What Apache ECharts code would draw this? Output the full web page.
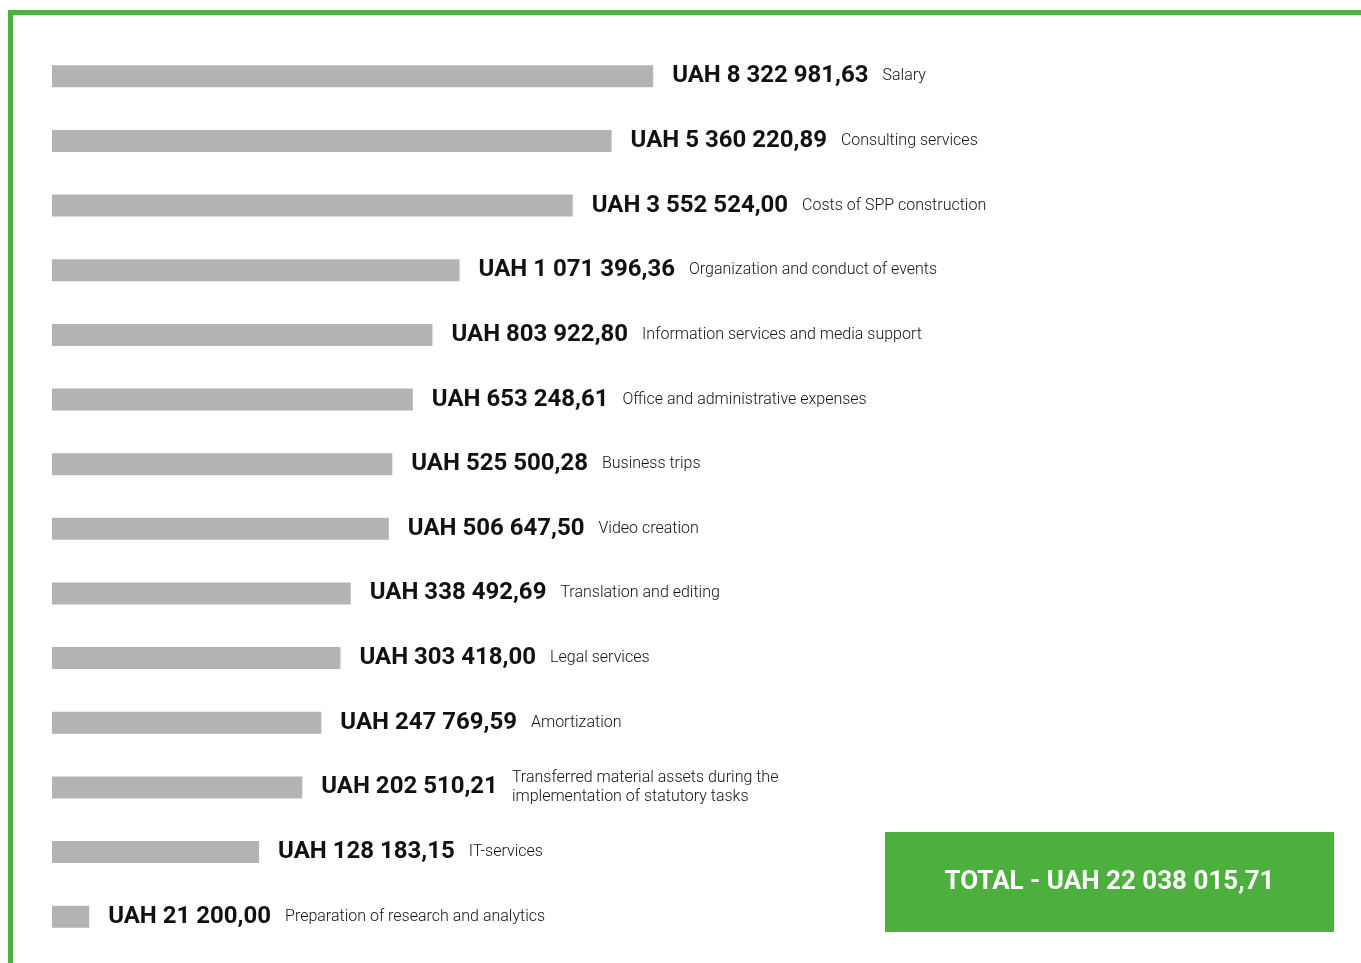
<!DOCTYPE html>
<html>
<head>
<meta charset="utf-8">
<title>Expenses</title>
<script src="https://cdn.jsdelivr.net/npm/echarts@6/dist/echarts.min.js"></script>
<style>
  html, body { margin: 0; padding: 0; background: #fff; }
  #chart { width: 1361px; height: 963px; }
</style>
</head>
<body>
<div id="chart"></div>
<script>
// Expense categories, top to bottom
const categories = [
  'Salary',
  'Consulting services',
  'Costs of SPP construction',
  'Organization and conduct of events',
  'Information services and media support',
  'Office and administrative expenses',
  'Business trips',
  'Video creation',
  'Translation and editing',
  'Legal services',
  'Amortization',
  'Transferred material assets during the\nimplementation of statutory tasks',
  'IT-services',
  'Preparation of research and analytics'
];

// Amounts in UAH
const amounts = [
  8322981.63,
  5360220.89,
  3552524.00,
  1071396.36,
  803922.80,
  653248.61,
  525500.28,
  506647.50,
  338492.69,
  303418.00,
  247769.59,
  202510.21,
  128183.15,
  21200.00
];

// Log value axis range
const axisMin = 14300;
const axisMax = 1.5e10;

const GREEN = '#4caf3e';
const BAR = '#b3b3b3';

function formatUAH(v) {
  const parts = v.toFixed(2).split('.');
  const whole = parts[0].replace(/\B(?=(\d{3})+(?!\d))/g, ' ');
  return 'UAH ' + whole + ',' + parts[1];
}

const total = amounts.reduce((a, b) => a + b, 0);

// measure the bold amount text to place the category caption after it
const measureCtx = document.createElement('canvas').getContext('2d');
measureCtx.font = 'bold 24px Roboto';
function amountWidth(v) {
  return measureCtx.measureText(formatUAH(v)).width;
}

const valueGap = 19;
const captionGap = 14;

const chart = echarts.init(document.getElementById('chart'), null, { renderer: 'canvas' });

const option = {
  backgroundColor: '#ffffff',
  animation: false,
  grid: { left: 52, right: 0, top: 44, bottom: 14, containLabel: false },
  xAxis: {
    type: 'log',
    min: axisMin,
    max: axisMax,
    show: false
  },
  yAxis: {
    type: 'category',
    data: categories,
    inverse: true,
    show: false
  },
  series: [
    {
      type: 'bar',
      data: amounts,
      barWidth: 22,
      clip: true,
      itemStyle: { color: BAR },
      label: {
        show: true,
        position: 'right',
        distance: valueGap,
        formatter: p => formatUAH(p.value),
        fontFamily: 'Roboto',
        fontWeight: 'bold',
        fontSize: 24,
        color: '#111111'
      }
    },
    {
      type: 'bar',
      barGap: '-100%',
      barWidth: 22,
      clip: true,
      silent: true,
      itemStyle: { color: 'rgba(0,0,0,0)' },
      data: amounts.map((v, i) => ({
        value: v,
        label: {
          show: true,
          position: 'right',
          distance: valueGap + amountWidth(v) + captionGap,
          formatter: categories[i],
          fontFamily: 'Roboto',
          fontWeight: 300,
          fontSize: 16,
          lineHeight: 19,
          color: '#111111'
        }
      }))
    }
  ],
  graphic: [
    { type: 'rect', shape: { x: 8, y: 10, width: 1353, height: 5 }, style: { fill: GREEN }, z: 10 },
    { type: 'rect', shape: { x: 8, y: 10, width: 5, height: 953 }, style: { fill: GREEN }, z: 10 },
    {
      type: 'group',
      left: 885,
      top: 832,
      children: [
        { type: 'rect', shape: { x: 0, y: 0, width: 449, height: 100 }, style: { fill: GREEN } },
        {
          type: 'text',
          x: 224.5,
          y: 50,
          style: {
            text: 'TOTAL - ' + formatUAH(total),
            fill: '#ffffff',
            font: 'bold 26px Roboto',
            align: 'center',
            verticalAlign: 'middle'
          }
        }
      ]
    }
  ]
};

chart.setOption(option);
</script>
</body>
</html>
